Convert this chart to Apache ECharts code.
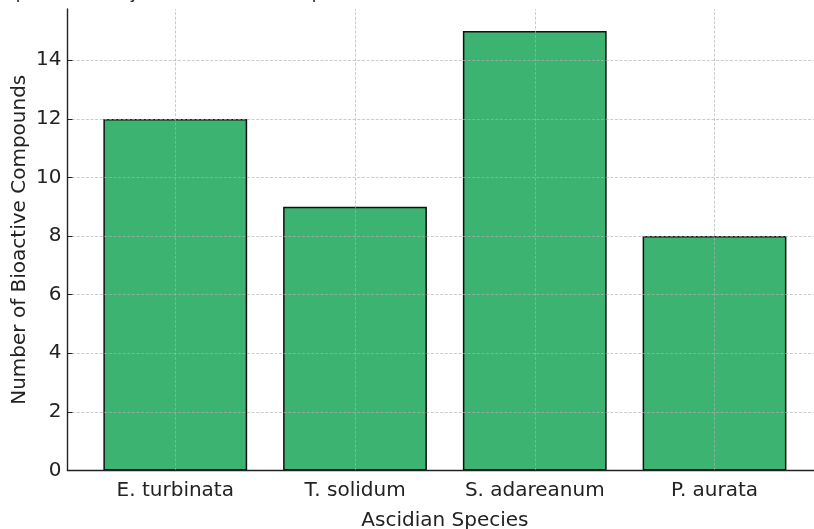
<!DOCTYPE html>
<html>
<head>
<meta charset="utf-8">
<script src="https://cdn.jsdelivr.net/npm/echarts@6/dist/echarts.min.js"></script>
<style>html,body{margin:0;padding:0;background:#fff}#c{width:814px;height:529px}</style>
</head>
<body>
<div id="c"></div>
<script>
const titleText = 'Comparative Analysis of Bioactive Compounds Isolated from Different Ascidian Marine Invertebrates';
const categories = ['E. turbinata', 'T. solidum', 'S. adareanum', 'P. aurata'];
const compounds = [12, 9, 15, 8];
const xAxisTitle = 'Ascidian Species';
const yAxisTitle = 'Number of Bioactive Compounds';
const yMax = 15.75;
const yStep = 2;

const FONT = 'DejaVu Sans';
const FS = 20;
const gridColor = 'rgba(176,176,176,0.65)';
const plotTop = 9, plotH = 461.5;

const chart = echarts.init(document.getElementById('c'), null, {renderer: 'canvas'});
chart.setOption({
  animation: false,
  backgroundColor: '#fff',
  title: {
    text: titleText,
    left: -28, top: -20,
    textStyle: {fontFamily: FONT, fontSize: 17, fontWeight: 'normal', color: '#222'}
  },
  grid: [
    {left: 85.4, top: plotTop, width: 719, height: plotH, containLabel: false, outerBoundsMode: 'none'},
    {left: 67.5, top: plotTop, width: 755, height: plotH, containLabel: false, outerBoundsMode: 'none'}
  ],
  xAxis: [
    {
      type: 'category', gridIndex: 0, data: categories,
      axisLine: {show: false},
      axisTick: {show: true, alignWithLabel: true, inside: true, length: 5, lineStyle: {color: '#222', width: 1}},
      axisLabel: {fontFamily: FONT, fontSize: FS, color: '#222', margin: 10, interval: 0, hideOverlap: false},
      splitLine: {show: false},
      name: xAxisTitle, nameLocation: 'middle', nameGap: 40, nameMoveOverlap: false,
      nameTextStyle: {fontFamily: FONT, fontSize: FS, color: '#222'}
    },
    {
      type: 'value', gridIndex: 1, min: 0, max: 1, z: 8,
      axisLine: {show: true, onZero: false, lineStyle: {color: '#222', width: 1.4}},
      axisTick: {show: false}, axisLabel: {show: false}, splitLine: {show: false}
    }
  ],
  yAxis: [
    {type: 'value', gridIndex: 0, min: 0, max: yMax, show: false, splitLine: {show: false}},
    {
      type: 'value', gridIndex: 1, min: 0, max: yMax, interval: yStep, z: 5,
      axisLine: {show: true, lineStyle: {color: '#222', width: 1.4}},
      axisTick: {show: true, inside: true, length: 5, lineStyle: {color: '#222'}},
      axisLabel: {fontFamily: FONT, fontSize: FS, color: '#222', margin: 6, showMaxLabel: false},
      splitLine: {show: true, showMaxLine: false, lineStyle: {color: gridColor, width: 1, type: [3, 1.6]}},
      name: yAxisTitle, nameLocation: 'middle', nameGap: 38, nameMoveOverlap: false,
      nameTextStyle: {fontFamily: FONT, fontSize: FS, color: '#222'}
    }
  ],
  series: [{
    type: 'bar', xAxisIndex: 0, yAxisIndex: 0,
    data: compounds, barWidth: '80%',
    itemStyle: {color: '#3cb371', borderColor: '#111', borderWidth: 1.5},
    markLine: {
      silent: true, symbol: 'none', label: {show: false}, animation: false,
      lineStyle: {color: gridColor, width: 1, type: [3, 1.6]},
      data: categories.map(c => ({xAxis: c}))
    }
  }]
});
</script>
</body>
</html>
